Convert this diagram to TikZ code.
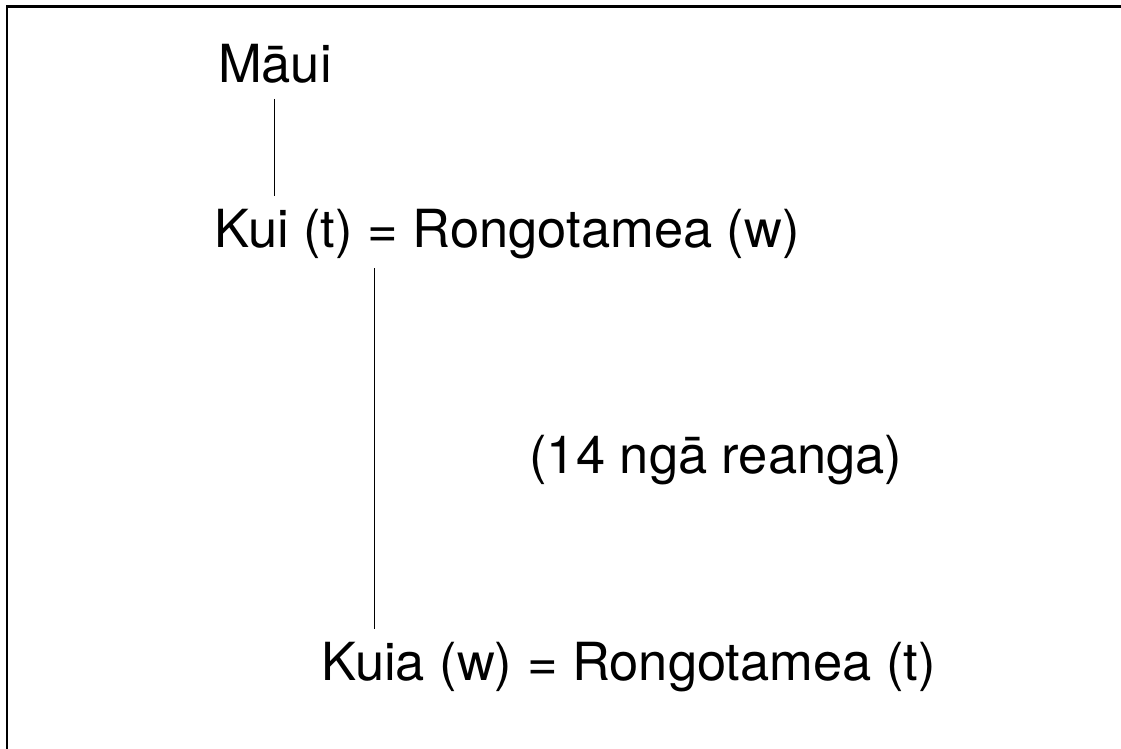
\documentclass[tikz,border=0pt]{standalone}
\usepackage{fontspec}
\setmainfont{TeX Gyre Heros}
\tikzset{
  gen/.style={font=\fontsize{52.5}{62}\selectfont, anchor=base west},
  descent/.style={draw=black, line width=1pt, line cap=butt}
}
\begin{document}
\begin{tikzpicture}[y=1pt,x=1pt,yscale=-1, inner sep=0pt, outer sep=0pt]
\useasboundingbox (0,0) rectangle (1121,749);
% frame
\path[draw=black,line join=miter,line width=2.6pt] (1121,6.5) -- (7,6.5) -- (7,749);

\path (218,83) node[gen] (maui) {Māui};
\path (214,247) node[gen] (kui) {Kui (t) = Rongotamea (w)};
\path (529.5,473) node[gen] (reanga) {(14 ngā reanga)};
\path (321,680) node[gen] (kuia) {Kuia (w) = Rongotamea (t)};

\draw[descent] ([xshift=56pt,yshift=16pt]maui.base west) -- ([xshift=60pt,yshift=-51pt]kui.base west);
\draw[descent] ([xshift=160pt,yshift=21pt]kui.base west) -- ([xshift=53pt,yshift=-51pt]kuia.base west);
\end{tikzpicture}
\end{document}
